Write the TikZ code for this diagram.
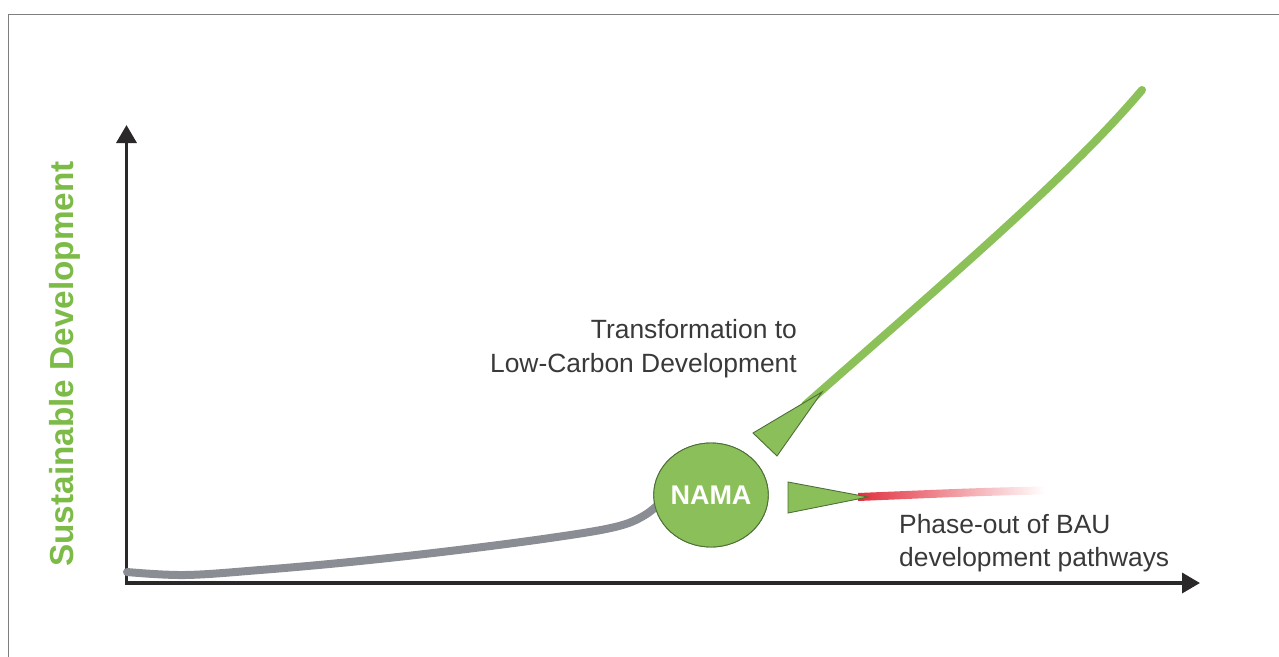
\documentclass[tikz,border=0pt]{standalone}
\usepackage{fontspec}
\setmainfont{Liberation Sans}
\usetikzlibrary{arrows.meta,shapes.geometric}
\definecolor{axisc}{HTML}{2B2829}
\definecolor{framec}{HTML}{7F7F7F}
\definecolor{bauc}{HTML}{8A8D94}
\definecolor{greenl}{HTML}{8BC158}
\definecolor{greenf}{HTML}{8BBF5A}
\definecolor{greend}{HTML}{4E6E38}
\definecolor{labelg}{HTML}{7DBB48}
\definecolor{textc}{HTML}{3A3838}
\definecolor{redc}{HTML}{E2303F}
\begin{document}
\begin{tikzpicture}[x=1pt,y=-1pt,
  framestyle/.style={draw=framec,line width=1.6pt},
  axisstyle/.style={draw=axisc,line width=3.5pt,
    {Triangle[length=18pt,width=20pt]}-{Triangle[length=18pt,width=20pt]}},
  baustyle/.style={draw=bauc,line width=8pt,line cap=round},
  lowcstyle/.style={draw=greenl,line width=8pt,line cap=round},
  tristyle/.style={fill=greenf,draw=greend,line width=0.9pt,line join=miter},
  namastyle/.style={ellipse,fill=greenf,draw=greend,line width=0.9pt,
    minimum width=113pt,minimum height=104pt,inner sep=0pt,
    text=white,font=\bfseries\fontsize{27}{32}\selectfont},
  ylabstyle/.style={text=labelg,font=\bfseries\fontsize{33.3}{38}\selectfont,inner sep=0pt},
  txtstyle/.style={text=textc,font=\fontsize{26.4}{33.5}\selectfont,inner sep=0pt}
]
\useasboundingbox (0,0) rectangle (1279,656);
% frame
\draw[framestyle] (8.5,670) -- (8.5,14.5) -- (1290,14.5);
% axes
\coordinate (ytip) at (126.5,125);
\coordinate (origin) at (126.5,583);
\coordinate (xtip) at (1200,583);
\draw[axisstyle] (ytip) -- (origin) -- (xtip);
% nodes
\node[namastyle] (nama) at (711,495) {NAMA};
\node[ylabstyle,rotate=90,anchor=base] (ylabel) at (73.5,364) {Sustainable Development};
\node[txtstyle,align=right,anchor=north east] (trans) at (797,319.5)
  {Transformation to\\Low-Carbon Development};
\node[txtstyle,align=left,anchor=north west] (phase) at (899,513.7)
  {Phase-out of BAU\\development pathways};
% BAU path (grey) into NAMA
\draw[baustyle] plot[smooth,tension=0.6] coordinates
  {(127,572) (185,575) (260,570) (350,562) (450,551) (550,538) (615,527) (645,515) (665,498)};
% low-carbon path (green)
\coordinate (lowstart) at (805,405);
\coordinate (lowend) at (1142,90);
\draw[lowcstyle] (lowstart) .. controls (955,273) and (1072,173) .. (lowend);
% phase-out line (red fading)
\shade[left color=redc,right color=white]
  (858,493) .. controls (920,490.5) and (980,487.5) .. (1045,486.5)
  -- (1045,494.5) .. controls (980,495.5) and (920,498.5) .. (858,501) -- cycle;
% triangles
\filldraw[tristyle] (753,433) -- (777,456) -- (822,392) -- cycle;
\filldraw[tristyle] (788,482) -- (788,513) -- (868,497) -- cycle;
% redraw NAMA on top of grey path
\node[namastyle] at (nama) {NAMA};
\end{tikzpicture}
\end{document}
